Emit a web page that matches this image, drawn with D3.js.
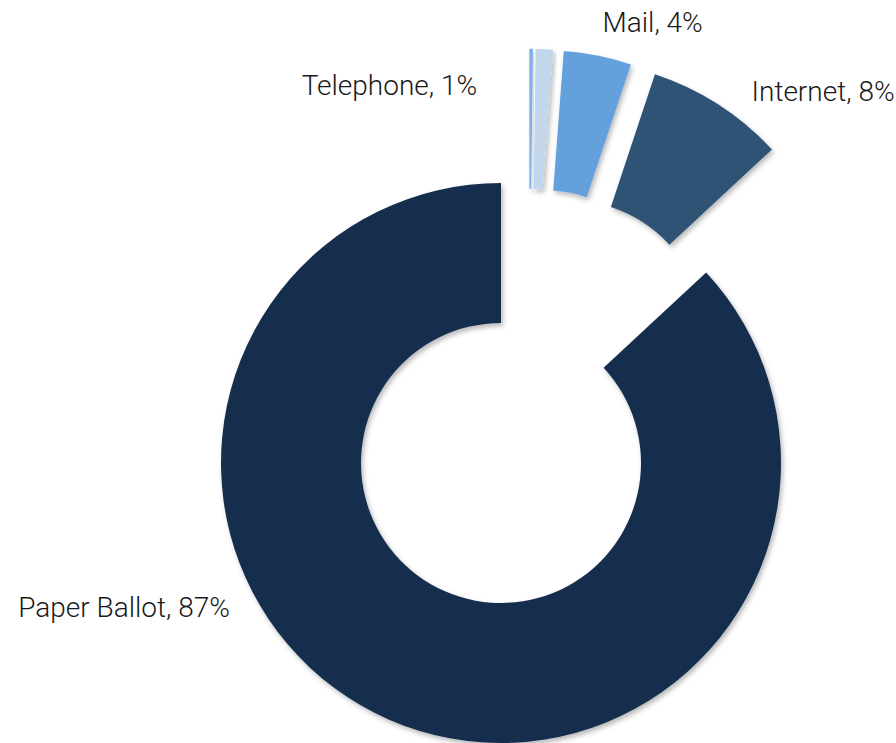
<!DOCTYPE html>
<html>
<head>
<meta charset="utf-8">
<script src="https://cdn.jsdelivr.net/npm/d3@7"></script>
<style>
  html, body { margin: 0; padding: 0; background: #ffffff; }
  svg { display: block; }
  .label { font-family: Roboto, "Liberation Sans", Arial, sans-serif; font-weight: 300; font-size: 28px; fill: #1a1a1a; }
</style>
</head>
<body>
<svg id="chart" width="896" height="743"></svg>
<script>
// Voting method shares (percent)
const categories = ["Other", "Telephone", "Mail", "Internet", "Paper Ballot"];
const shares     = [0.2, 1.0, 3.9, 8.0, 87.0];
const labelTexts = [null, "Telephone, 1%", "Mail, 4%", "Internet, 8%", "Paper Ballot, 87%"];
const exploded   = [true, true, true, true, false];

// Styling / layout
const colors = ["#7fb0ea", "#c2d6ec", "#63a0dc", "#2f5274", "#162f4e"];
const center = { x: 501, y: 463 };
const outerR = 280, innerR = 140;
const groupPull = 70;   // pull of the exploded group along its bisector
const slicePull = 70;   // extra pull of each exploded slice along its own bisector
// Label anchor: angle (deg, clockwise from 12 o'clock) and distance from the ring centre
const labelPlacement = [
  null,
  { angle: -3.6, r: 379, anchor: "end" },
  { angle: 19.0, r: 466, anchor: "middle" },
  { angle: 34.0, r: 448, anchor: "start" },
  { angle: 242.0, r: 307, anchor: "end" }
];

const svg = d3.select("#chart");

const defs = svg.append("defs");
const shadow = defs.append("filter").attr("id", "shadow")
  .attr("x", "-20%").attr("y", "-20%").attr("width", "140%").attr("height", "140%");
shadow.append("feDropShadow")
  .attr("dx", 2).attr("dy", 3).attr("stdDeviation", 2.5)
  .attr("flood-color", "#000").attr("flood-opacity", 0.28);

const data = categories.map((c, i) => ({ name: c, value: shares[i], i }));

const pie = d3.pie().sort(null).value(d => d.value);
const arcs = pie(data);
const arc = d3.arc().innerRadius(innerR).outerRadius(outerR);

// Bisector of the exploded group
const ex = arcs.filter(a => exploded[a.data.i]);
const groupMid = (d3.min(ex, a => a.startAngle) + d3.max(ex, a => a.endAngle)) / 2;

function offsetFor(a) {
  if (!exploded[a.data.i]) return [0, 0];
  const mid = (a.startAngle + a.endAngle) / 2;
  return [
    groupPull * Math.sin(groupMid) + slicePull * Math.sin(mid),
    -groupPull * Math.cos(groupMid) - slicePull * Math.cos(mid)
  ];
}

const g = svg.append("g").attr("transform", `translate(${center.x},${center.y})`);

g.selectAll("path.slice")
  .data(arcs)
  .join("path")
  .attr("class", "slice")
  .attr("d", arc)
  .attr("fill", a => colors[a.data.i])
  .attr("filter", "url(#shadow)")
  .attr("transform", a => {
    const [dx, dy] = offsetFor(a);
    return `translate(${dx},${dy})`;
  });

const rad = Math.PI / 180;
g.selectAll("text.label")
  .data(arcs.filter(a => labelTexts[a.data.i]))
  .join("text")
  .attr("class", "label")
  .attr("x", a => labelPlacement[a.data.i].r * Math.sin(labelPlacement[a.data.i].angle * rad))
  .attr("y", a => -labelPlacement[a.data.i].r * Math.cos(labelPlacement[a.data.i].angle * rad))
  .attr("dy", "0.35em")
  .attr("text-anchor", a => labelPlacement[a.data.i].anchor)
  .text(a => labelTexts[a.data.i]);
</script>
</body>
</html>
